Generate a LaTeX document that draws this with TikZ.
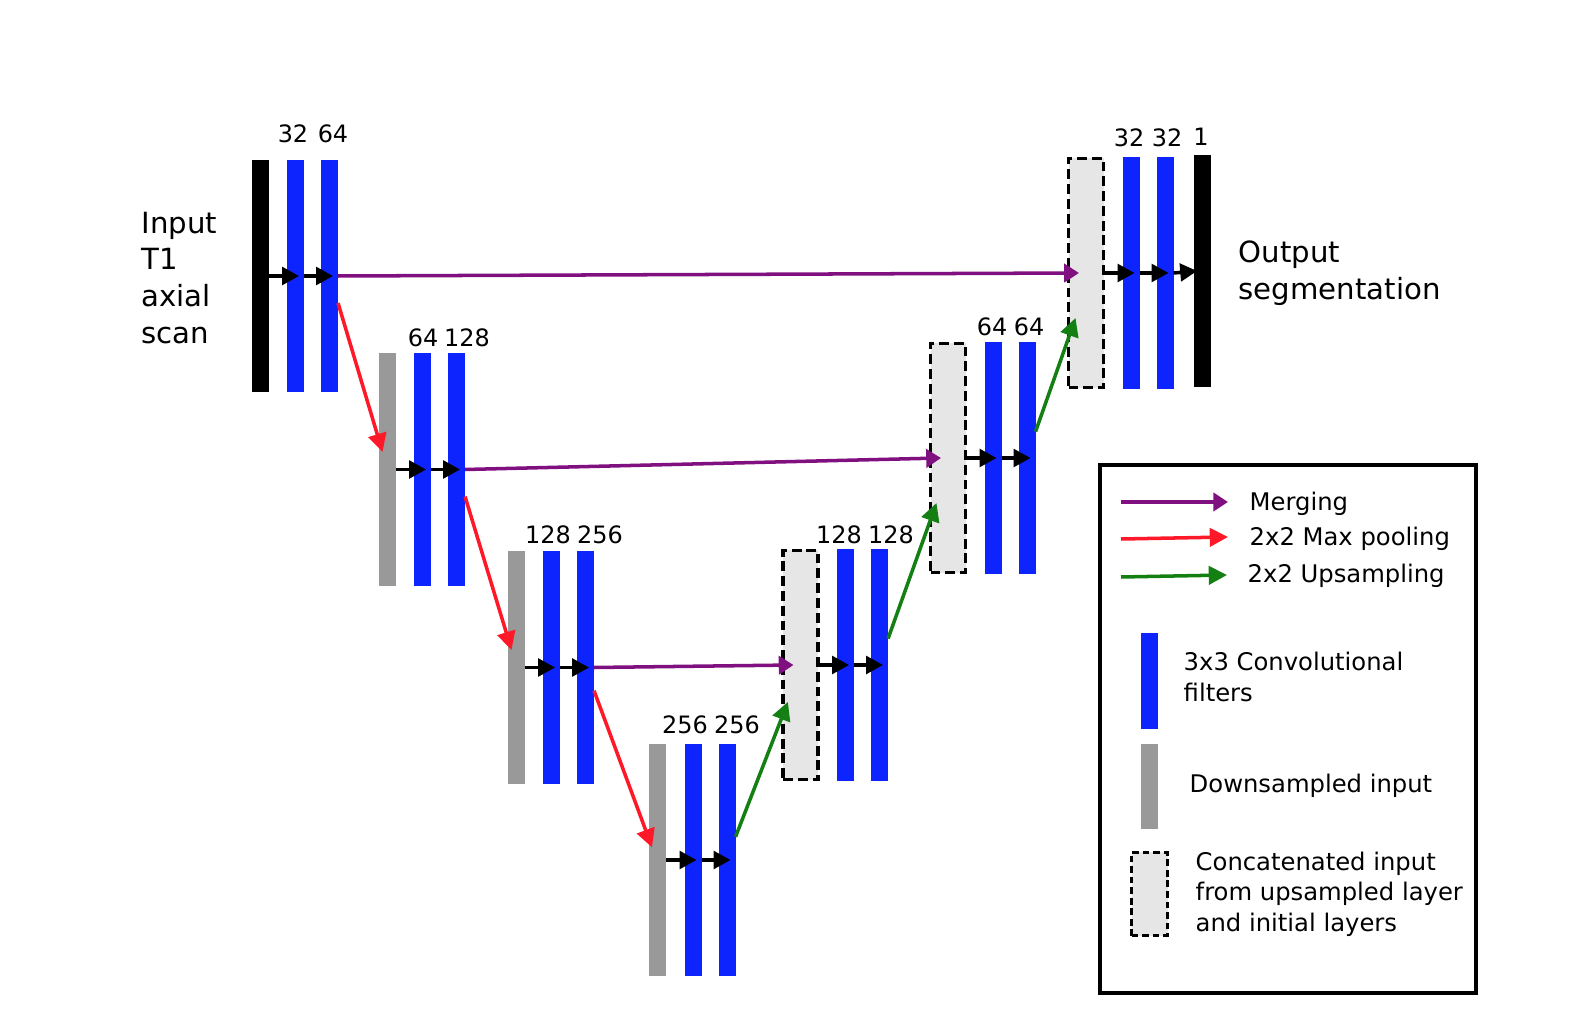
\documentclass[tikz,border=0pt]{standalone}
\usepackage{fontspec}
\setmainfont{DejaVu Sans}
\usetikzlibrary{arrows.meta,positioning}

\definecolor{convblue}{RGB}{14,36,255}
\definecolor{poolgray}{RGB}{153,153,153}
\definecolor{catfill}{RGB}{230,230,230}
\definecolor{mergepurple}{RGB}{128,16,128}
\definecolor{poolred}{RGB}{255,24,40}
\definecolor{upgreen}{RGB}{20,128,20}

\begin{document}
\begin{tikzpicture}[
    x=0.01cm, y=-0.01cm,
    bar/.style={rectangle, inner sep=0, outer sep=0, minimum width=0.17cm, minimum height=2.32cm},
    convbar/.style={bar, fill=convblue},
    poolbar/.style={bar, fill=poolgray},
    iobar/.style={bar, fill=black},
    catbar/.style={rectangle, inner sep=0, outer sep=0, minimum width=0.35cm, minimum height=2.29cm, fill=catfill, draw=black, line width=0.9pt, dash pattern=on 2.8pt off 1.4pt},
    lbl/.style={inner sep=0, font=\fontsize{6.8}{8}\selectfont},
    bigtext/.style={inner sep=0, align=left, anchor=west, font=\fontsize{8.3}{10.5}\selectfont},
    legtext/.style={inner sep=0, align=left, anchor=west, font=\fontsize{6.9}{8.7}\selectfont},
    fwd/.style={-{Triangle[length=4.8pt,width=5pt]}, line width=1pt, black},
    merge/.style={-{Triangle[length=4.2pt,width=5.2pt]}, line width=1pt, mergepurple},
    pool/.style={-{Triangle[length=5.2pt,width=5.2pt]}, line width=1pt, poolred},
    upsamp/.style={-{Triangle[length=5.2pt,width=5.2pt]}, line width=1pt, upgreen}
]
\useasboundingbox (0,0) rectangle (1570,1034);

% contracting path
\node[iobar] (in1) at (260.5,276) {};
\node[convbar, right=0.18cm of in1] (c11) {};
\node[convbar, right=0.17cm of c11] (c12) {};
\node[poolbar] (p2) at (387.5,469.5) {};
\node[convbar, right=0.18cm of p2] (c21) {};
\node[convbar, right=0.17cm of c21] (c22) {};
\node[poolbar] (p3) at (516.5,667.5) {};
\node[convbar, right=0.18cm of p3] (c31) {};
\node[convbar, right=0.17cm of c31] (c32) {};
\node[poolbar] (p4) at (657,860) {};
\node[convbar, right=0.19cm of p4] (c41) {};
\node[convbar, right=0.17cm of c41] (c42) {};

% expanding path
\node[catbar] (cat3) at (800.5,665) {};
\node[convbar, right=0.19cm of cat3] (c51) {};
\node[convbar, right=0.17cm of c51] (c52) {};
\node[catbar] (cat2) at (948,458) {};
\node[convbar, right=0.19cm of cat2] (c61) {};
\node[convbar, right=0.17cm of c61] (c62) {};
\node[catbar] (cat1) at (1086,273) {};
\node[convbar, right=0.19cm of cat1] (c71) {};
\node[convbar, right=0.17cm of c71] (c72) {};
\node[iobar, right=0.2cm of c72, yshift=0.02cm] (out1) {};

% filter counts
\node[lbl] (n11) at (293,134) {32};
\node[lbl] (n12) at (333,134) {64};
\node[lbl] (n21) at (423,338) {64};
\node[lbl] (n22) at (467,338) {128};
\node[lbl] (n31) at (548,535) {128};
\node[lbl] (n32) at (600,535) {256};
\node[lbl] (n41) at (685,725) {256};
\node[lbl] (n42) at (737,725) {256};
\node[lbl] (n51) at (839,535) {128};
\node[lbl] (n52) at (891,535) {128};
\node[lbl] (n61) at (992,327) {64};
\node[lbl] (n62) at (1029,327) {64};
\node[lbl] (n71) at (1129,138) {32};
\node[lbl] (n72) at (1167,138) {32};
\node[lbl] (n73) at (1201,137) {1};

\node[bigtext] (intext) at (141,278) {Input\\T1\\axial\\scan};
\node[bigtext] (outtext) at (1238,273) {Output\\segmentation};

% convolutions
\draw[fwd] (in1.east) -- ([xshift=1pt]c11.center);
\draw[fwd] (c11.east) -- ([xshift=1pt]c12.center);
\draw[fwd] (p2.east) -- ([xshift=1pt]c21.center);
\draw[fwd] (c21.east) -- ([xshift=1pt]c22.center);
\draw[fwd] (p3.east) -- ([xshift=1pt]c31.center);
\draw[fwd] (c31.east) -- ([xshift=1pt]c32.center);
\draw[fwd] (p4.east) -- ([xshift=1pt]c41.center);
\draw[fwd] (c41.east) -- ([xshift=1pt]c42.center);
\draw[fwd] (cat3.east) -- ([xshift=1pt]c51.center);
\draw[fwd] (c51.east) -- ([xshift=1pt]c52.center);
\draw[fwd] (cat2.east) -- ([xshift=1pt]c61.center);
\draw[fwd] (c61.east) -- ([xshift=1pt]c62.center);
\draw[fwd] (cat1.east) -- ([xshift=1pt]c71.center);
\draw[fwd] (c71.east) -- ([xshift=1pt]c72.center);
\draw[fwd] (c72.east) -- ([xshift=1pt]out1.west);

% skip connections
\draw[merge] (c12.east) -- ([xshift=-2pt]cat1.center);
\draw[merge] (c22.east) -- ([xshift=-2pt]cat2.center);
\draw[merge] (c32.east) -- ([xshift=-2pt]cat3.center);

% pooling
\draw[pool] ([yshift=-7.7pt]c12.east) -- ([xshift=1pt,yshift=5pt]p2.west);
\draw[pool] ([yshift=-7.7pt]c22.east) -- ([xshift=1pt,yshift=5pt]p3.west);
\draw[pool] ([yshift=-6.6pt]c32.east) -- ([xshift=1pt,yshift=3.6pt]p4.west);

% upsampling
\draw[upsamp] ([yshift=6.6pt]c42.east) -- ([xshift=1.4pt,yshift=-10.5pt]cat3.west);
\draw[upsamp] ([yshift=7.5pt]c52.east) -- ([xshift=1.7pt,yshift=-12.8pt]cat2.west);
\draw[upsamp] ([yshift=7.5pt]c62.east) -- ([xshift=2pt,yshift=-12.8pt]cat1.west);

% legend
\node[draw, line width=1pt, inner sep=0, minimum width=3.76cm, minimum height=5.28cm] (legend) at (1288,729) {};
\node[legtext] (tmerge) at (1249,504) {Merging};
\node[legtext] (tpool) at (1249,539) {2x2 Max pooling};
\node[legtext] (tup) at (1247,576) {2x2 Upsampling};
\coordinate (lmerge) at (1121,502);
\coordinate (lpool) at (1121,539);
\coordinate (lup) at (1121,577);
\draw[merge] (lmerge) -- (1228,502);
\draw[pool] (lpool) -- (1228,537);
\draw[upsamp] (lup) -- (1227,575);
\node[bar, fill=convblue, minimum height=0.96cm] (kconv) at (1149,681) {};
\node[bar, fill=poolgray, minimum height=0.85cm] (kpool) at (1149,786.5) {};
\node[catbar, minimum width=0.36cm, minimum height=0.83cm, line width=0.8pt, dash pattern=on 1.9pt off 1.1pt] (kcat) at (1149.5,894) {};
\node[legtext] (tconv) at (1183,677) {3x3 Convolutional\\filters};
\node[legtext] (tdown) at (1189,786) {Downsampled input};
\node[legtext] (tcat) at (1195,894) {Concatenated input\\from upsampled layer\\and initial layers};
\end{tikzpicture}
\end{document}
